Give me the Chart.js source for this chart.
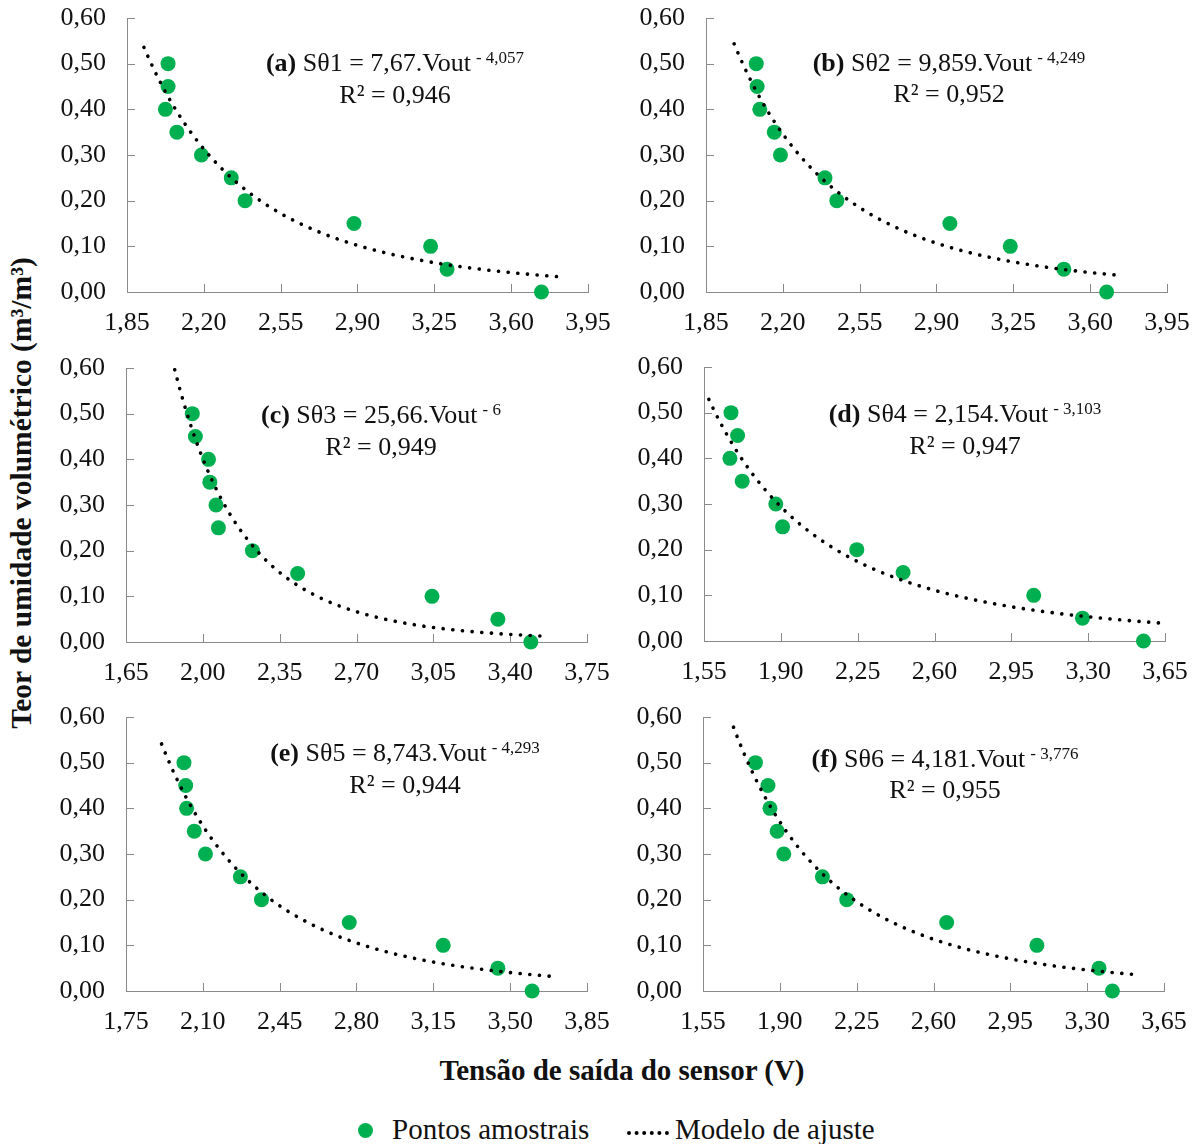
<!DOCTYPE html>
<html lang="pt-BR">
  <head>
    <meta charset="UTF-8" />
    <meta name="viewport" content="width=device-width, initial-scale=1.0" />
    <script src="https://cdn.jsdelivr.net/npm/chart.js@4.4.1/dist/chart.umd.min.js"></script>
    <title>Calibração dos sensores</title>
    <style>
      body { margin: 0; background: #fff; }
      #page {
        position: relative;
        width: 1200px;
        height: 1144px;
        overflow: hidden;
        font-family: "Liberation Serif", "Times New Roman", serif;
        color: #111;
      }
      #page canvas { position: absolute; }
      .txt { position: absolute; white-space: nowrap; line-height: 30px; font-family: "Liberation Serif", serif; }
      #ytitle {
        left: -279px; top: 478px; width: 600px; text-align: center;
        font-weight: bold; font-size: 29.5px;
        transform: rotate(-90deg);
      }
      #xtitle {
        left: 322px; top: 1055px; width: 600px; text-align: center;
        font-weight: bold; font-size: 29px;
      }
      .leg { font-size: 29px; top: 1114px; }
      #legDot {
        position: absolute; left: 358px; top: 1123px; width: 15px; height: 15px;
        border-radius: 50%; background: #00b050;
      }
      #legLine {
        position: absolute; left: 627px; top: 1131px; width: 42px; height: 0;
        border-top: 4px dotted #000;
      }
    </style>
  </head>
  <body>
    <div id="page">
      <div id="ytitle" class="txt">Teor de umidade volumétrico (m³/m³)</div>
      <div id="xtitle" class="txt">Tensão de saída do sensor (V)</div>
      <div id="legDot"></div>
      <div class="txt leg" style="left: 392px">Pontos amostrais</div>
      <div id="legLine"></div>
      <div class="txt leg" style="left: 675px">Modelo de ajuste</div>
    </div>
    <script>
      // teor de umidade (m³/m³) das amostras, igual para os seis sensores
      const teor = [0.5, 0.45, 0.4, 0.35, 0.3, 0.25, 0.2, 0.15, 0.1, 0.05, 0.0];

      // tensão de saída (V) lida em cada sensor
      const voutS1 = [2.037, 2.037, 2.025, 2.077, 2.189, 2.325, 2.388, 2.884, 3.233, 3.308, 3.738];
      const voutS2 = [2.079, 2.083, 2.095, 2.161, 2.189, 2.392, 2.446, 2.961, 3.236, 3.48, 3.675];
      const voutS3 = [1.952, 1.966, 2.026, 2.032, 2.06, 2.071, 2.226, 2.432, 3.044, 3.344, 3.494];
      const voutS4 = [1.673, 1.703, 1.668, 1.724, 1.877, 1.908, 2.246, 2.457, 3.052, 3.274, 3.552];
      const voutS5 = [2.014, 2.022, 2.026, 2.061, 2.112, 2.271, 2.367, 2.767, 3.195, 3.444, 3.6];
      const voutS6 = [1.789, 1.846, 1.855, 1.888, 1.918, 2.094, 2.205, 2.66, 3.071, 3.354, 3.415];
      const vouts = [voutS1, voutS2, voutS3, voutS4, voutS5, voutS6];

      // modelo potencial S = a.Vout^b e trecho em que a curva é traçada
      const coefA = [7.67, 9.859, 25.66, 2.154, 8.743, 4.181];
      const coefB = [-4.057, -4.249, -6, -3.103, -4.293, -3.776];
      const modeloDe = [1.927, 1.978, 1.872, 1.572, 1.912, 1.689];
      const modeloAte = [3.845, 3.745, 3.571, 3.645, 3.7, 3.514];

      // textos das equações
      const letras = ["(a)", "(b)", "(c)", "(d)", "(e)", "(f)"];
      const eqTexto = ["Sθ1 = 7,67.Vout", "Sθ2 = 9,859.Vout", "Sθ3 = 25,66.Vout",
                       "Sθ4 = 2,154.Vout", "Sθ5 = 8,743.Vout", "Sθ6 = 4,181.Vout"];
      const eqExpoente = ["- 4,057", "- 4,249", "- 6", "- 3,103", "- 4,293", "- 3,776"];
      const r2Texto = ["0,946", "0,952", "0,949", "0,947", "0,944", "0,955"];

      // marcas dos eixos
      const xTicks = [
        [1.85, 2.2, 2.55, 2.9, 3.25, 3.6, 3.95],
        [1.85, 2.2, 2.55, 2.9, 3.25, 3.6, 3.95],
        [1.65, 2.0, 2.35, 2.7, 3.05, 3.4, 3.75],
        [1.55, 1.9, 2.25, 2.6, 2.95, 3.3, 3.65],
        [1.75, 2.1, 2.45, 2.8, 3.15, 3.5, 3.85],
        [1.55, 1.9, 2.25, 2.6, 2.95, 3.3, 3.65],
      ];
      const yTicks = [0, 0.1, 0.2, 0.3, 0.4, 0.5, 0.6];

      // canto superior esquerdo da área de plotagem de cada painel
      const areas = [[127, 18], [706, 18], [126, 368], [704, 367], [126, 717], [703, 717]];
      // centro da equação e linhas de base (relativos à área de plotagem)
      const eqPos = [[268, 53, 85], [243, 53, 84], [255, 55, 87], [261, 55, 87], [279, 44, 76], [242, 50, 81]];

      const W = 461, H = 274;
      const verde = "#00b050";
      const cinza = "#8a8a8a";
      const preto = "#111";
      const fonte = "'Liberation Serif'";
      const fmt = (v) => v.toFixed(2).replace(".", ",");

      const textos = (i) => ({
        id: "textos" + i,
        beforeDatasetsDraw(chart) {
          const { ctx, chartArea: a, scales: { x, y } } = chart;
          ctx.save();

          // marcas para dentro nos dois eixos
          ctx.strokeStyle = cinza;
          ctx.lineWidth = 1;
          ctx.beginPath();
          x.ticks.forEach((t) => {
            const p = Math.round(x.getPixelForValue(t.value)) + 0.5;
            ctx.moveTo(p, a.bottom);
            ctx.lineTo(p, a.bottom - 8);
          });
          y.ticks.forEach((t) => {
            const p = Math.round(y.getPixelForValue(t.value)) + 0.5;
            ctx.moveTo(a.left, p);
            ctx.lineTo(a.left + 8, p);
          });
          ctx.stroke();

          // rótulos dos eixos com vírgula decimal
          ctx.fillStyle = preto;
          ctx.font = "26px " + fonte;
          ctx.textBaseline = "middle";
          ctx.textAlign = "right";
          y.ticks.forEach((t) => ctx.fillText(fmt(t.value), a.left - 21, y.getPixelForValue(t.value)));
          ctx.textAlign = "center";
          x.ticks.forEach((t) => ctx.fillText(fmt(t.value), x.getPixelForValue(t.value), a.bottom + 31));

          // equação do ajuste e R²
          const [cx, b1, b2] = eqPos[i];
          const fB = "bold 26px " + fonte, fR = "26px " + fonte, fS = "17px " + fonte;
          ctx.textBaseline = "alphabetic";
          ctx.textAlign = "left";
          ctx.font = fB;
          const w1 = ctx.measureText(letras[i] + " ").width;
          ctx.font = fR;
          const w2 = ctx.measureText(eqTexto[i]).width;
          ctx.font = fS;
          const w3 = ctx.measureText(eqExpoente[i]).width;
          const gap = 5;
          let px = a.left + cx - (w1 + w2 + gap + w3) / 2;
          const py = a.top + b1;
          ctx.font = fB;
          ctx.fillText(letras[i] + " ", px, py);
          px += w1;
          ctx.font = fR;
          ctx.fillText(eqTexto[i], px, py);
          px += w2 + gap;
          ctx.font = fS;
          ctx.fillText(eqExpoente[i], px, py - 8);
          ctx.font = fR;
          ctx.textAlign = "center";
          ctx.fillText("R² = " + r2Texto[i], a.left + cx, a.top + b2);

          ctx.restore();
        },
      });

      const page = document.getElementById("page");

      areas.forEach(([left, top], i) => {
        const cv = document.createElement("canvas");
        cv.width = W + 110;
        cv.height = H + 65;
        cv.style.left = left - 80 + "px";
        cv.style.top = top - 15 + "px";
        page.appendChild(cv);

        // curva do modelo a partir dos coeficientes da equação
        const curva = [];
        for (let k = 0; k <= 80; k++) {
          const v = modeloDe[i] + ((modeloAte[i] - modeloDe[i]) * k) / 80;
          curva.push({ x: v, y: coefA[i] * Math.pow(v, coefB[i]) });
        }
        const pontos = vouts[i].map((v, k) => ({ x: v, y: teor[k] }));

        new Chart(cv, {
          type: "scatter",
          data: {
            datasets: [
              {
                label: "Modelo de ajuste",
                data: curva,
                showLine: true,
                pointRadius: 0,
                borderColor: "#000",
                borderWidth: 3.6,
                borderDash: [0.1, 9.6],
                borderCapStyle: "round",
                tension: 0,
                clip: false,
              },
              {
                label: "Pontos amostrais",
                data: pontos,
                pointRadius: 7.5,
                pointBackgroundColor: verde,
                pointBorderWidth: 0,
                backgroundColor: verde,
                clip: false,
              },
            ],
          },
          options: {
            responsive: false,
            animation: false,
            events: [],
            layout: { padding: { left: 10, top: 15, right: 30, bottom: 5 } },
            plugins: { legend: { display: false }, tooltip: { enabled: false } },
            scales: {
              x: {
                type: "linear",
                min: xTicks[i][0],
                max: xTicks[i][xTicks[i].length - 1],
                afterBuildTicks: (s) => { s.ticks = xTicks[i].map((v) => ({ value: v })); },
                afterFit: (s) => { s.height = 45; },
                ticks: { display: false },
                grid: { display: true, drawOnChartArea: false, drawTicks: false, color: cinza },
                border: { display: true, color: cinza, width: 1 },
              },
              y: {
                type: "linear",
                min: 0,
                max: 0.6,
                afterBuildTicks: (s) => { s.ticks = yTicks.map((v) => ({ value: v })); },
                afterFit: (s) => { s.width = 70; },
                ticks: { display: false },
                grid: { display: true, drawOnChartArea: false, drawTicks: false, color: cinza },
                border: { display: true, color: cinza, width: 1 },
              },
            },
          },
          plugins: [textos(i)],
        });
      });
    </script>
  </body>
</html>
